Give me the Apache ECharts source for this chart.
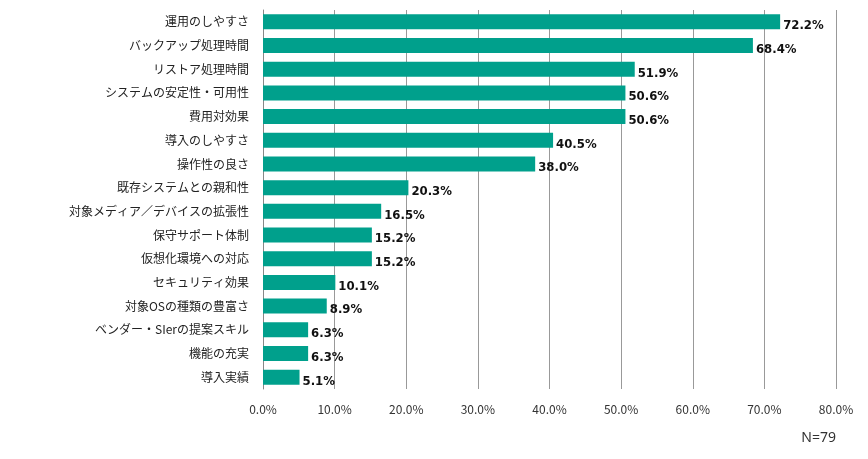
<!DOCTYPE html>
<html><head><meta charset="utf-8">
<script src="https://cdn.jsdelivr.net/npm/echarts@6/dist/echarts.min.js"></script>
<style>html,body{margin:0;padding:0;background:#fff}#c{width:868px;height:459px}</style>
</head><body><div id="c"></div>
<script>
const categories = ['運用のしやすさ','バックアップ処理時間','リストア処理時間','システムの安定性・可用性','費用対効果','導入のしやすさ','操作性の良さ','既存システムとの親和性','対象メディア／デバイスの拡張性','保守サポート体制','仮想化環境への対応','セキュリティ効果','対象OSの種類の豊富さ','ベンダー・SIerの提案スキル','機能の充実','導入実績'];
const values = [72.2,68.4,51.9,50.6,50.6,40.5,38.0,20.3,16.5,15.2,15.2,10.1,8.9,6.3,6.3,5.1];
const chart = echarts.init(document.getElementById('c'));
chart.setOption({
  animation: false,
  textStyle: {fontFamily: '"Noto Sans CJK JP", sans-serif'},
  grid: {left: 263, right: 32, top: 10, bottom: 70},
  xAxis: {type: 'value', min: 0, max: 80, interval: 10,
    axisLabel: {formatter: v => v.toFixed(1) + '%', color: '#333', fontSize: 12, margin: 14},
    axisLine: {show: false}, axisTick: {show: false},
    splitLine: {lineStyle: {color: '#999'}}},
  yAxis: {type: 'category', inverse: true, data: categories,
    axisLabel: {color: '#222', fontSize: 12, margin: 14},
    axisLine: {lineStyle: {color: '#888'}}, axisTick: {show: false}},
  graphic: [{type: 'text', right: 32, bottom: 14, style: {text: 'N=79', fontSize: 14, fill: '#333', fontFamily: 'Noto Sans'}}],
  series: [{type: 'bar', data: values, barWidth: 15,
    itemStyle: {color: '#00A08C'},
    label: {show: true, position: 'right', offset: [-2, 4], formatter: p => p.value.toFixed(1) + '%',
      color: '#111', fontWeight: 'bold', fontSize: 13, fontFamily: '"DejaVu Sans Condensed", "Liberation Sans Narrow", sans-serif'}}]
});
</script></body></html>
